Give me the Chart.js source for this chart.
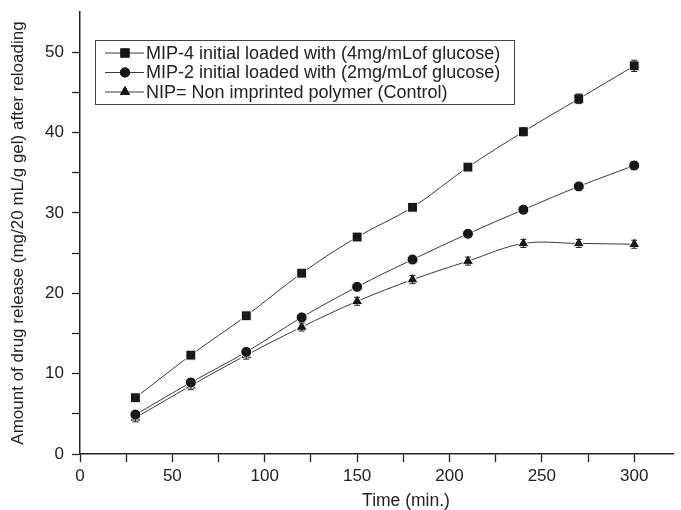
<!DOCTYPE html>
<html lang="en">
<head>
  <meta charset="UTF-8" />
  <title>Drug release after reloading</title>
  <script src="https://cdn.jsdelivr.net/npm/chart.js"></script>
  <style>
    html, body {
      margin: 0;
      padding: 0;
      background: #fff;
    }
    #wrap {
      position: relative;
      width: 681px;
      height: 510px;
    }
  </style>
</head>
<body>
  <div id="wrap">
    <canvas id="releaseChart"></canvas>
  </div>

  <script>
    // time points (min.)
    const times = [30, 60, 90, 120, 150, 180, 210, 240, 270, 300];

    const mip4 = [7.0, 12.3, 17.2, 22.5, 27.0, 30.7, 35.7, 40.1, 44.2, 48.3];
    const mip4Err = [0.3, 0.3, 0.3, 0.3, 0.3, 0.3, 0.4, 0.5, 0.6, 0.7];

    const mip2 = [4.9, 8.9, 12.7, 17.0, 20.8, 24.2, 27.4, 30.4, 33.3, 35.9];
    const mip2Err = [0.3, 0.3, 0.3, 0.3, 0.3, 0.3, 0.3, 0.4, 0.4, 0.5];

    const nip = [4.5, 8.5, 12.3, 15.8, 19.0, 21.7, 24.0, 26.2, 26.2, 26.1];
    const nipErr = [0.5, 0.5, 0.5, 0.5, 0.5, 0.5, 0.5, 0.5, 0.5, 0.5];

    // axis ticks (labelled every 50 / 10, minor marks in between)
    const xTicks = [0, 25, 50, 75, 100, 125, 150, 175, 200, 225, 250, 275, 300];
    const yTicks = [0, 5, 10, 15, 20, 25, 30, 35, 40, 45, 50];

    const seriesNames = [
      "MIP-4 initial loaded with (4mg/mLof glucose)",
      "MIP-2 initial loaded with (2mg/mLof glucose)",
      "NIP= Non imprinted polymer (Control)"
    ];

    const xTitle = "Time (min.)";
    const yTitle = "Amount of drug release (mg/20 mL/g gel) after reloading";

    const ink = "#222";
    const font = "'Liberation Sans', Arial, sans-serif";

    function toPoints(ys) {
      return times.map((t, i) => ({ x: t, y: ys[i] }));
    }

    function lineSet(label, ys, errs, style, radius) {
      return {
        label: label,
        data: toPoints(ys),
        errors: errs,
        borderColor: "#3a3a3a",
        borderWidth: 1,
        tension: 0.35,
        pointStyle: style,
        pointRadius: radius,
        pointBackgroundColor: "#151515",
        pointBorderColor: "#fff",
        pointBorderWidth: 1
      };
    }

    // vertical error bars with small caps
    const errorBars = {
      id: "errorBars",
      afterDatasetsDraw(chart) {
        const { ctx, scales } = chart;
        ctx.save();
        ctx.strokeStyle = ink;
        ctx.lineWidth = 1;
        chart.data.datasets.forEach(ds => {
          ds.data.forEach((p, i) => {
            const e = ds.errors[i];
            const x = scales.x.getPixelForValue(p.x);
            const y1 = scales.y.getPixelForValue(p.y - e);
            const y2 = scales.y.getPixelForValue(p.y + e);
            ctx.beginPath();
            ctx.moveTo(x, y1); ctx.lineTo(x, y2);
            ctx.moveTo(x - 3, y1); ctx.lineTo(x + 3, y1);
            ctx.moveTo(x - 3, y2); ctx.lineTo(x + 3, y2);
            ctx.stroke();
          });
        });
        ctx.restore();
      }
    };

    // boxed legend inside the plot plus the x axis title
    const boxLegend = {
      id: "boxLegend",
      afterDraw(chart) {
        const ctx = chart.ctx;
        const left = 95, top = 40, width = 419, height = 64;
        ctx.save();
        ctx.strokeStyle = "#444";
        ctx.lineWidth = 1;
        ctx.strokeRect(left + 0.5, top + 0.5, width, height);

        ctx.font = "18px " + font;
        ctx.textBaseline = "middle";
        chart.data.datasets.forEach((ds, i) => {
          const y = top + 13 + i * 19.5;
          ctx.strokeStyle = "#3a3a3a";
          ctx.beginPath();
          ctx.moveTo(105, y); ctx.lineTo(144, y);
          ctx.stroke();
          ctx.fillStyle = "#151515";
          Chart.helpers.drawPoint(ctx, {
            pointStyle: ds.pointStyle,
            radius: ds.pointRadius - 0.5,
            borderWidth: 0
          }, 125, y);
          ctx.fill();
          ctx.fillStyle = ink;
          ctx.fillText(ds.label, 146, y + 1);
        });

        ctx.font = "17.5px " + font;
        ctx.textAlign = "center";
        ctx.textBaseline = "middle";
        ctx.fillText(xTitle, 406, 501);
        ctx.restore();
      }
    };

    new Chart(document.getElementById("releaseChart"), {
      type: "line",
      data: {
        datasets: [
          lineSet(seriesNames[0], mip4, mip4Err, "rect", 7),
          lineSet(seriesNames[1], mip2, mip2Err, "circle", 5.5),
          lineSet(seriesNames[2], nip, nipErr, "triangle", 6.5)
        ]
      },
      options: {
        responsive: true,
        maintainAspectRatio: false,
        animation: false,
        layout: { padding: { top: 12, right: 0, left: 0, bottom: 0 } },
        plugins: {
          legend: { display: false },
          tooltip: { enabled: false }
        },
        scales: {
          x: {
            type: "linear",
            min: 0,
            max: 321,
            afterBuildTicks: s => { s.ticks = xTicks.map(v => ({ value: v })); },
            afterFit: s => { s.height = 56; s.paddingLeft = 0; s.paddingRight = 0; },
            ticks: {
              autoSkip: false,
              maxRotation: 0,
              padding: 4,
              color: ink,
              font: { family: font, size: 17 },
              callback: v => (v % 50 === 0 ? v : "")
            },
            grid: { drawOnChartArea: false, tickLength: 8, tickColor: ink, tickWidth: 1.3 },
            border: { color: ink, width: 1.5 }
          },
          y: {
            min: 0,
            max: 55,
            afterBuildTicks: s => { s.ticks = yTicks.map(v => ({ value: v })); },
            afterFit: s => { s.width = 80; s.paddingTop = 0; s.paddingBottom = 0; },
            ticks: {
              autoSkip: false,
              padding: 8,
              color: ink,
              font: { family: font, size: 17 },
              callback: v => (v % 10 === 0 ? v : "")
            },
            title: {
              display: true,
              text: yTitle,
              color: ink,
              font: { family: font, size: 17 },
              padding: { top: 8, bottom: 0 }
            },
            grid: { drawOnChartArea: false, tickLength: 8, tickColor: ink, tickWidth: 1.3 },
            border: { color: ink, width: 1.5 }
          }
        }
      },
      plugins: [errorBars, boxLegend]
    });
  </script>
</body>
</html>
